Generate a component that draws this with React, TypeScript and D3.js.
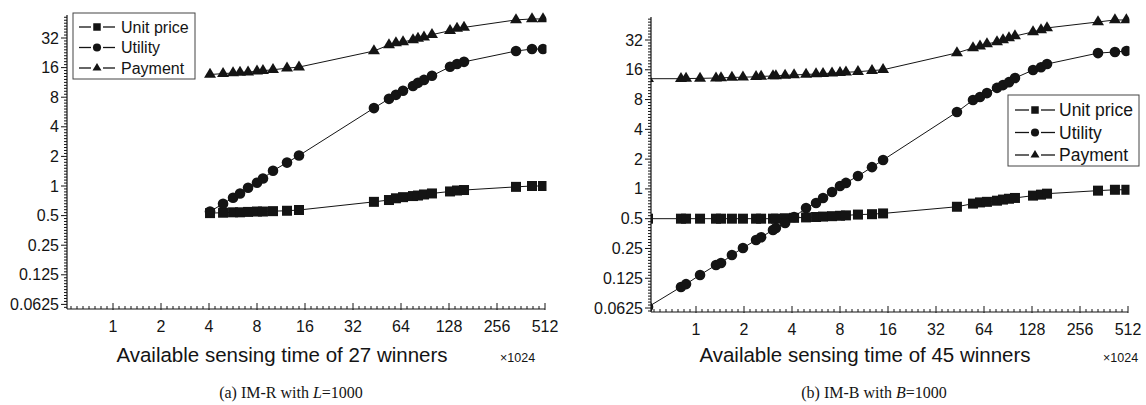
import React from "react";
import * as d3 from "d3";

// ---------------- data ----------------
const seriesNames = ["Unit price", "Utility", "Payment"];
const xTickValues = [1, 2, 4, 8, 16, 32, 64, 128, 256, 512];
const yTickValues = [0.0625, 0.125, 0.25, 0.5, 1, 2, 4, 8, 16, 32];
const yTickLabels = ["0.0625", "0.125", "0.25", "0.5", "1", "2", "4", "8", "16", "32"];

// (a) IM-R with L=1000
const leftX = [4.06, 4.9, 5.66, 6.26, 7.03, 8.0, 8.72, 10.08, 12.34, 14.67, 43.3, 53.8, 59.5, 65.9, 76.1, 81.8, 89.2, 100.1, 129.9, 143.7, 159, 336.8, 424.4, 497.5];
const leftUnit = [0.53, 0.535, 0.54, 0.54, 0.545, 0.55, 0.55, 0.555, 0.56, 0.57, 0.69, 0.72, 0.75, 0.77, 0.79, 0.8, 0.82, 0.84, 0.88, 0.9, 0.91, 0.98, 1.0, 1.0];
const leftUtil = [0.55, 0.66, 0.76, 0.84, 0.96, 1.08, 1.19, 1.43, 1.73, 2.04, 6.2, 7.7, 8.45, 9.3, 10.4, 11.2, 12.0, 13.2, 16.3, 17.4, 18.3, 23.6, 24.7, 24.7];
const leftPay = [13.6, 13.9, 14.1, 14.3, 14.4, 14.7, 14.9, 15.2, 15.8, 16.2, 23.6, 27.2, 28.6, 29.2, 30.6, 31.6, 32.7, 34.6, 38.0, 40.0, 41.0, 48.9, 50.0, 50.0];

// (b) IM-B with B=1000
const rightX = [0.5, 0.805, 0.866, 1.06, 1.335, 1.435, 1.68, 1.97, 2.38, 2.56, 3.04, 3.17, 3.62, 4.12, 4.9, 5.66, 6.26, 7.13, 8.0, 8.72, 10.37, 12.7, 14.9, 43.3, 54.6, 60.4, 66.8, 77.2, 84.2, 91.8, 100.1, 129.9, 145.8, 159, 332, 424, 500];
const rightUnit = [0.5, 0.5, 0.5, 0.5, 0.5, 0.5, 0.5, 0.5, 0.5, 0.5, 0.5, 0.5, 0.505, 0.51, 0.515, 0.52, 0.525, 0.53, 0.535, 0.54, 0.55, 0.555, 0.565, 0.66, 0.71, 0.73, 0.74, 0.76, 0.78, 0.795, 0.81, 0.855, 0.875, 0.895, 0.96, 0.98, 0.98];
const rightUtil = [0.064, 0.102, 0.109, 0.135, 0.17, 0.178, 0.215, 0.253, 0.304, 0.325, 0.384, 0.402, 0.452, 0.52, 0.642, 0.721, 0.81, 0.932, 1.07, 1.15, 1.35, 1.66, 1.96, 5.98, 7.91, 8.48, 9.3, 10.5, 11.2, 12.0, 13.2, 15.9, 17.0, 18.3, 23.6, 24.2, 24.8];
const rightPay = [13.0, 13.0, 13.05, 13.1, 13.2, 13.25, 13.4, 13.45, 13.6, 13.7, 13.85, 13.9, 14.05, 14.2, 14.35, 14.5, 14.65, 14.8, 15.0, 15.1, 15.3, 15.7, 16.0, 23.7, 26.6, 27.8, 29.2, 30.6, 32, 33.5, 35.1, 38.6, 40.4, 42.4, 48.7, 51, 51];

const INK = "#141414";
const SANS = "'Liberation Sans', Arial, sans-serif";
const SERIF = "'Liberation Serif', 'Times New Roman', serif";

type Panel = {
  id: string;
  xs: number[];
  series: number[][];
  xDomain: [number, number];
  xRange: [number, number];
  yDomain: [number, number];
  yRange: [number, number];
  title: string;
  titleX: number;
  multX: number;
  caption: React.ReactNode;
  captionX: number;
  legend: { x: number; y: number; w: number; h: number; rows: number[]; fs: number; lineX0: number; lineX1: number; textX: number };
};

function Marker({ kind, x, y, s }: { kind: number; x: number; y: number; s: number }) {
  if (kind === 0) {
    return <rect x={x - s / 2} y={y - s / 2} width={s} height={s} fill={INK} />;
  }
  if (kind === 1) {
    return <circle cx={x} cy={y} r={s / 2 + 0.3} fill={INK} />;
  }
  const w = s * 1.2;
  const h = s * 1.0;
  const pts = [
    [x, y - (2 * h) / 3],
    [x - w / 2, y + h / 3],
    [x + w / 2, y + h / 3],
  ];
  return <polygon points={pts.map((p) => p.join(",")).join(" ")} fill={INK} />;
}

function PanelView({ p }: { p: Panel }) {
  const x = d3.scaleLog().base(2).domain(p.xDomain).range(p.xRange);
  const y = d3.scaleLog().base(2).domain(p.yDomain).range(p.yRange);
  const [x0, x1] = p.xRange;
  const [yb, yt] = p.yRange;
  const line = d3
    .line<number>()
    .x((_, i) => x(p.xs[i]))
    .y((d) => y(d));

  const xMinor: number[] = [];
  for (let k = -1; k < 9; k++) {
    for (let i = 1; i < 8; i++) {
      const v = Math.pow(2, k + i / 8);
      if (v > p.xDomain[0] && v < p.xDomain[1]) xMinor.push(v);
    }
  }
  const yMinor: number[] = [];
  for (let k = -5; k < 6; k++) {
    for (let i = 1; i < 10; i++) {
      const v = Math.pow(2, k + i / 10);
      if (v > p.yDomain[0] && v < p.yDomain[1]) yMinor.push(v);
    }
  }
  const clipId = "clip-" + p.id;
  const L = p.legend;
  const lm = (L.lineX0 + L.lineX1) / 2;
  return (
    <g>
      <defs>
        <clipPath id={clipId}>
          <rect x={x0} y={yt - 10} width={x1 - x0 + 1.5} height={yb - yt + 10} />
        </clipPath>
      </defs>
      <line x1={x0} x2={x1} y1={yb} y2={yb} stroke={INK} strokeWidth={1.2} />
      <line x1={x0} x2={x0} y1={yb} y2={yt} stroke={INK} strokeWidth={1.2} />
      {xMinor.map((v, i) => (
        <line key={"xm" + i} x1={x(v)} x2={x(v)} y1={yb} y2={yb - 3} stroke={INK} strokeWidth={1} />
      ))}
      {xTickValues.map((v) => (
        <g key={"xt" + v}>
          <line x1={x(v)} x2={x(v)} y1={yb + 1} y2={yb - 6} stroke={INK} strokeWidth={1} />
          <text x={x(v)} y={yb + 23} textAnchor="middle" fontFamily={SANS} fontSize={16} fill={INK}>
            {v}
          </text>
        </g>
      ))}
      {yMinor.map((v, i) => (
        <line key={"ym" + i} x1={x0} x2={x0 - 3} y1={y(v)} y2={y(v)} stroke={INK} strokeWidth={1} />
      ))}
      {yTickValues.map((v, i) => (
        <g key={"yt" + v}>
          <line x1={x0} x2={x0 - 6} y1={y(v)} y2={y(v)} stroke={INK} strokeWidth={1} />
          <text x={x0 - 8} y={y(v) + 5.5} textAnchor="end" fontFamily={SANS} fontSize={16} fill={INK}>
            {yTickLabels[i]}
          </text>
        </g>
      ))}
      <g clipPath={`url(#${clipId})`}>
        {p.series.map((s, si) => (
          <path key={"l" + si} d={line(s) || ""} fill="none" stroke={INK} strokeWidth={1} />
        ))}
        {p.series.map((s, si) =>
          s.map((v, i) => <Marker key={"m" + si + "-" + i} kind={si} x={x(p.xs[i])} y={y(v)} s={10} />)
        )}
      </g>
      <rect x={L.x} y={L.y} width={L.w} height={L.h} fill="white" stroke="#444" strokeWidth={1} />
      {seriesNames.map((n, i) => (
        <g key={"lg" + i}>
          <line x1={L.lineX0} x2={lm - 6} y1={L.rows[i]} y2={L.rows[i]} stroke={INK} strokeWidth={1.3} />
          <line x1={lm + 6} x2={L.lineX1} y1={L.rows[i]} y2={L.rows[i]} stroke={INK} strokeWidth={1.3} />
          <Marker kind={i} x={lm} y={L.rows[i]} s={7.5} />
          <text x={L.textX} y={L.rows[i] + L.fs * 0.36} fontFamily={SANS} fontSize={L.fs} fill={INK}>
            {n}
          </text>
        </g>
      ))}
      <text x={p.titleX} y={362} textAnchor="middle" fontFamily={SANS} fontSize={20.5} fill={INK}>
        {p.title}
      </text>
      <text x={p.multX} y={362} fontFamily={SANS} fontSize={12.5} fill={INK}>
        ×1024
      </text>
      <text x={p.captionX} y={398} textAnchor="middle" fontFamily={SERIF} fontSize={16} fill={INK}>
        {p.caption}
      </text>
    </g>
  );
}

const panels: Panel[] = [
  {
    id: "a",
    xs: leftX,
    series: [leftUnit, leftUtil, leftPay],
    xDomain: [Math.pow(2, -46 / 48), 512],
    xRange: [67, 545],
    yDomain: [32 * Math.pow(2, (38 - 309) / 29.6), 32 * Math.pow(2, 23 / 29.6)],
    yRange: [309, 15],
    title: "Available sensing time of 27 winners",
    titleX: 282,
    multX: 500,
    caption: (
      <>
        (a) IM-R with <tspan fontStyle="italic">L</tspan>=1000
      </>
    ),
    captionX: 291,
    legend: { x: 73, y: 13, w: 122, h: 66, rows: [27, 47.5, 68], fs: 16, lineX0: 79, lineX1: 115, textX: 121 },
  },
  {
    id: "b",
    xs: rightX,
    series: [rightUnit, rightUtil, rightPay],
    xDomain: [Math.pow(2, -45 / 48), 512],
    xRange: [651, 1128],
    yDomain: [32 * Math.pow(2, (40 - 312) / 29.78), 32 * Math.pow(2, 23 / 29.78)],
    yRange: [312, 17],
    title: "Available sensing time of 45 winners",
    titleX: 865,
    multX: 1103,
    caption: (
      <>
        (b) IM-B with <tspan fontStyle="italic">B</tspan>=1000
      </>
    ),
    captionX: 874,
    legend: { x: 1008, y: 95, w: 131, h: 71, rows: [110, 132.5, 155], fs: 17.5, lineX0: 1015, lineX1: 1055, textX: 1059 },
  },
];

export default function App() {
  return (
    <div style={{ position: "absolute", left: 0, top: 0 }}>
      <svg width={1146} height={405} viewBox="0 0 1146 405" style={{ display: "block", background: "white" }}>
        {panels.map((p) => (
          <PanelView key={p.id} p={p} />
        ))}
      </svg>
    </div>
  );
}
